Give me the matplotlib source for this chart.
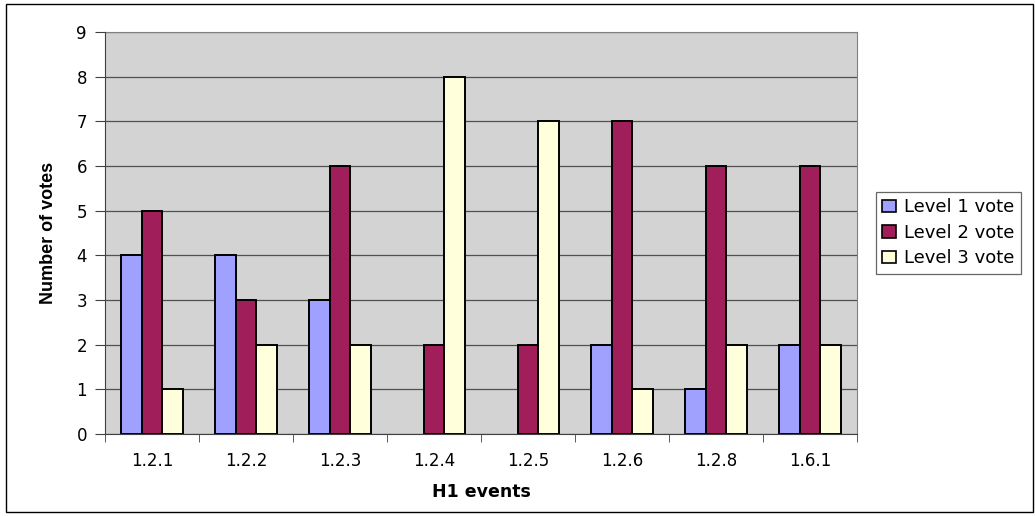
import matplotlib
matplotlib.use("Agg")
import matplotlib.pyplot as plt
import numpy as np
from matplotlib.patches import Rectangle
from matplotlib import font_manager

categories = ["1.2.1", "1.2.2", "1.2.3", "1.2.4", "1.2.5", "1.2.6", "1.2.8", "1.6.1"]
level1 = [4, 4, 3, 0, 0, 2, 1, 2]
level2 = [5, 3, 6, 2, 2, 7, 6, 6]
level3 = [1, 2, 2, 8, 7, 1, 2, 2]
series_names = ["Level 1 vote", "Level 2 vote", "Level 3 vote"]
colors = ["#A0A0FF", "#A01E5A", "#FFFFDC"]
yticks = list(range(0, 10))

plt.rcParams['font.family'] = ['DejaVu Sans']

installed = {f.name for f in font_manager.fontManager.ttflist}
if 'Liberation Sans Narrow' in installed:
    ylab_family = 'Liberation Sans Narrow'
    ylab_size = 15
elif 'DejaVu Sans Condensed' in installed:
    ylab_family = 'DejaVu Sans Condensed'
    ylab_size = 14
else:
    ylab_family = 'Liberation Sans'
    ylab_size = 13

fig = plt.figure(figsize=(10.35, 5.16), dpi=100)
fig.patch.set_facecolor("white")
fig.patches.append(Rectangle((6/1035, 4/516), 1027/1035, 508/516, transform=fig.transFigure,
                             fill=False, edgecolor="black", linewidth=1.0))

ax = fig.add_axes([105/1035, (516-434)/516, (857-105)/1035, (434-32)/516])
ax.set_facecolor("#D3D3D3")

x = np.arange(len(categories))
w = 1/4.5
for i, vals in enumerate([level1, level2, level3]):
    lws = [1.4 if v > 0 else 0 for v in vals]
    ax.bar(x + (i-1)*w, vals, width=w, color=colors[i], edgecolor="black", linewidth=lws,
           label=series_names[i], zorder=2)

ax.set_xlim(-0.5, len(categories)-0.5)
ax.set_ylim(0, 9)
ax.set_yticks(yticks)
ax.set_yticklabels([str(t) for t in yticks], fontsize=12)
ax.yaxis.grid(True, color="#505050", linewidth=0.9, zorder=1)
ax.set_axisbelow(True)

ax.set_xticks(x)
ax.set_xticklabels(categories, fontsize=12)
ax.tick_params(axis='x', length=0, pad=13)
ax.set_xticks(np.arange(-0.5, len(categories)), minor=True)
ax.tick_params(axis='x', which='minor', length=6, direction='out', color="#404040")
ax.tick_params(axis='y', length=7, direction='out', color="#404040", pad=6)

for s in ["top", "right"]:
    ax.spines[s].set_color("#808080")
for s in ["left", "bottom"]:
    ax.spines[s].set_color("#404040")
    ax.spines[s].set_zorder(3)

ax.set_xlabel("H1 events", fontsize=12.5, fontweight="bold", labelpad=9)
ax.set_ylabel("Number of votes", fontsize=ylab_size, fontweight="bold",
              family=[ylab_family, 'DejaVu Sans'], labelpad=14)

leg = ax.legend(loc="upper left", bbox_to_anchor=(876/1035, (516-192)/516),
                bbox_transform=fig.transFigure, fontsize=13, frameon=True, fancybox=False,
                edgecolor="#404040", handlelength=0.75, handleheight=0.7, handletextpad=0.45,
                borderaxespad=0, borderpad=0.35, labelspacing=0.42)
leg.get_frame().set_linewidth(0.9)
for h in leg.legend_handles:
    h.set_linewidth(1.2)

fig.savefig("out.png", dpi=100)
